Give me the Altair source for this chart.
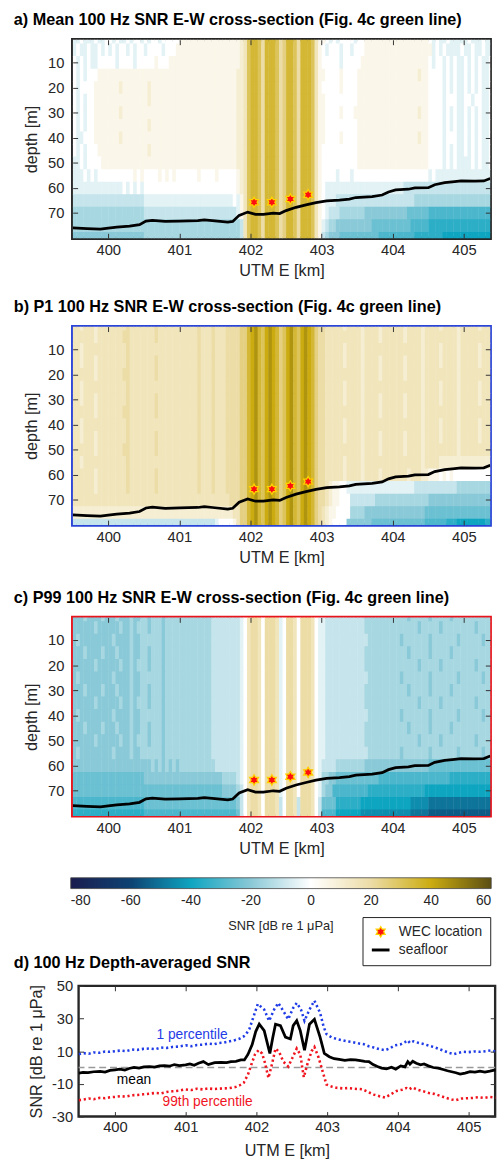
import altair as alt
import pandas as pd

FONT = "Liberation Sans"

# ---------------- heat-map grids ----------------
X_START = 399.5
X_STEP = 0.05
DEPTH_CENTERS = [0, 5, 10, 15, 20, 25, 30, 35, 40, 45, 50, 55, 60, 65, 70, 75, 80]
ROW_HALF = 2.5
LEVEL_CODES = "kjihgfedcba0123456789"
LEVEL_VALUES = [-55, -50, -45, -40, -35, -30, -25, -20, -15, -10, -5,
                0, 5, 10, 15, 20, 25, 30, 35, 40, 45]

# column groups: 399.5-400 | 400-401 | 401-402 | 402-403 | 403-404 | 404-405 | 405-405.4
MEAN_GRID = [
    "aa0aaa0aa0 0a0aa0a00a0a00a00000 11111111111111111236 77647776457764777631 10a0a0000a0011111111 11111111110a0aa0aaaa a0aaa0aa",
    "a0aa0aa0a0 a0a00a0a00a0000a0001 11111111111111111236 77647776457764777631 0a000a00a00011111111 11111111111a0a0aaaa0 aa0aa0aa",
    "0a0a0aa000 00a0000a000001000111 11111111111111111236 77647776457764777631 00000a00000111111111 11111111110a00a0a0aa 0a0a0aa0",
    "0a0a000111 11111111111111111111 11111111111111112236 77647776457764777631 10000100001111111111 11111112110000a0a0aa 0a0a0aa0",
    "0a00001111 11121111111211111111 11111111111111112236 77647776457764777631 00000100001111111111 11111111110000a0a0aa 0a0a0aa0",
    "0a0a001111 11111111111211111111 11111111111111112236 77647776457764777631 10000000001111111111 11111111110000a000aa 00a00aa0",
    "0a0a001111 11121111111111111111 11111111111111112236 77647776457764777631 10000100011111111111 11111112110000a0a0aa 0a0a0aa0",
    "0a0a001111 11111111111211111111 11111111111111112236 77647776457764777631 10000000001111111111 11111111110000a0a0aa 0a0a0aa0",
    "0aa0001111 11121111111111111111 11111111111111112236 77647776457764777631 10000100001111111111 11111112110000a000aa 0a0a0aa0",
    "0a0a000111 11111111111211111111 11111111111111112236 77647776457764777631 00000000001111111111 11111111110000a0a0aa 0a0a0aa0",
    "aa0a000011 11111111111111111111 11111111111111112236 77647776457764777631 00000000001111111111 11111111110000a0a0aa aa0a0aa0",
    "aaa0a0a000 00000001010000101010 00000100001000001236 77647776457764777631 0000a000a00000000000 0000000000a0aaaaaaaa aaaaaaaa",
    "aaaaaaaaaa aaaa0a0a0a0000000000 00000000000000001236 77647776457764777631 0aaaaaaaaaaaaaaaaaaa aaabbbbbbbbbbbbbbbbb bbbbbbbb",
    "bbbbbbbbbb bbbbbbbbbbaaaaaaaaaa aaaaaaaaaaaaaaa0a136 77647776457764777631 0aaabbbbbbbbbbbbbbbb bbbbbbcccccccccccccc cccccccc",
    "cccccccccc ccccccccccbbbbbbbbbb bbbbbbbbbbbbbbbba136 77647776457764777631 0abbbcccccccdddddddd ddddeeeeeeffffffffff ffffffff",
    "cccccccccc cccccccccccccccccccc cccccccccccccccccb36 77647776457764777631 abccddddddddddeeeeee eeeeefffffgggggggggg gggggggg",
    "dddddddddd ddddddddddcccccccccc cccccccccccccccccb36 77647776457764777631 bcdddeeeeeeeeeeeffff ffffffgggggggghhhhhh hhhhhhhh",
]

P1_GRID = [
    "3323332333 33333433333334333333 33333433343334444557 89768987568976898754 43333323333233332333 33323333233332333323 33332333",
    "3333332333 33334433333334333333 33333433343334444557 89768987568976898754 43333333333233332333 33323333233333333323 33333333",
    "3323333333 33333433333333333333 33333433343334444557 89768987568976898754 43333323333233333333 33333333233332333323 33332333",
    "3323332333 33333433333334333333 33333433343334444557 89768987568976898754 43333323333233332333 33323333233332333323 33332333",
    "3333332333 33334433333334333333 33333433343334444557 89768987568976898754 43333333333233332333 33323333233333333323 33333333",
    "3323333333 33333433333333333333 33333433343334444557 89768987568976898754 43333323333233333333 33333333233332333323 33332333",
    "3323332333 33333433333334333333 33333433343334444557 89768987568976898754 43333323333233332333 33323333233332333323 33332333",
    "3333332333 33334433333334333333 33333433343334444557 89768987568976898754 43333333333233332333 33323333233333333323 33333333",
    "3323333333 33333433333333333333 33333433343334444557 89768987568976898754 43333323333233333333 33333333233332333323 33332333",
    "3323332333 33333433333334333333 33333433343334444557 89768987568976898754 43333323333233332333 33323333233332333323 33332333",
    "3333332333 33334433333334333333 33333433343334444557 89768987568976898754 43333333333233332333 33323333233333333323 33333333",
    "3323333333 33333433333333333333 33333433343334444557 89768987568976898754 43333323333233333333 33333333233332222222 22222222",
    "3333332333 33333433333334333333 33333433343334444557 89768987568976898754 43333323333233332333 33332333221110101000 00000000",
    "3333332333 33333433333334333333 33333433343334444557 89768987568976898754 4321100aaaaaaaaaaaaa aaaaaabbbbbbbbbbbbcc cccccccc",
    "3333333333 33333333333333333333 33333333333333444557 89768987568976898754 43211000bbbbbbbccccc ccccccccccdddddddddd dddddddd",
    "2222222222 22222222222222222222 22222222222222233557 89768987568976898754 32110000ccccdddddddd dddddddddeeeeeeeeeee eeeeeeee",
    "bbbbbbbbbb bbbbbbbbbbbbbbbbbbbb bbbbbbbbbba000013557 89768987568976898754 3210000dddddddeeeeee eeeeeeeeeffffffggghh hhhhhhgg",
]

P99_GRID = [
    "dddcddddcd ddcdddcddccdcccdcccc cccccccccbbbbbbbba03 44304443a0443044430a abbbbbbbbbbbcccccccc ccccdcccccdcccccdccc cccccccc",
    "ddddddcddd dddcddcdcccdcccdcccc cccccccccbbbbbbbba03 44304443a0443044430a abbbbbbbbbbbcccccccc cccccccdcccccdcccccc cccdcccc",
    "dcdddddddd dcddddcddccccccdcccc cccccccccbbbbbbbba03 44304443a0443044430a abbbbbbbbbbbbccccccc ccdcccccccdcccccccdc cccccdcc",
    "dddcddddcd ddcdddcddccdcccdcccc cccccccccbbbbbbbba03 44304443a0443044430a abbbbbbbbbbbcccccccc ccccdcccccdcccccdccc cccccccc",
    "ddddddcddd dddcddcdcccdcccdcccc cccccccccbbbbbbbba03 44304443a0443044430a abbbbbbbbbbbcccccccc cccccccdcccccdcccccc cccdcccc",
    "dcdddddddd dcddddcddccccccdcccc cccccccccbbbbbbbba03 44304443a0443044430a abbbbbbbbbbbbccccccc ccdcccccccdcccccccdc cccccdcc",
    "dddcddddcd ddcdddcddccdcccdcccc cccccccccbbbbbbbba03 44304443a0443044430a abbbbbbbbbbbcccccccc ccccdcccccdcccccdccc cccccccc",
    "ddddddcddd dddcddcdcccdcccdcccc cccccccccbbbbbbbba03 44304443a0443044430a abbbbbbbbbbbcccccccc cccccccdcccccdcccccc cccdcccc",
    "dcdddddddd dcddddcddccccccdcccc cccccccccbbbbbbbba03 44304443a0443044430a abbbbbbbbbbbbccccccc ccdcccccccdcccccccdc cccccdcc",
    "dddcddddcd ddcdddcddccdcccdcccc cccccccccbbbbbbbba03 44304443a0443044430a abbbbbbbbbbbcccccccc ccccdcccccdcccccdccc cccccccc",
    "ddddddcddd dddcddcdcccdcccdcccc cccccccccbbbbbbbba03 44304443a0443044430a abbbbbbbbbbbcccccccc cccccccdcccccdcccccc cccdcccc",
    "dcdddddddd dcddddcddccccccdcccc cccccccccbbbbbbbba03 44304443a0443044430a abbbbbbbbbbbbccccccc ccdcccccccdcccccccdc cccccdcc",
    "dddddddddd ddddddddddddcdcdcdcd ccccccccccbbbbbbba03 44304443a0443044430a bbbbccccccccdddddddd ddddddddddeeeeeeeeee eeeeeeee",
    "eeeeeeeeee eeeeeeeeeedddddddddd ddddddddddddccccba03 44304443a0443044430a ccddeeeeeeeeeeeeffff ffffffffffffffffgggg gggggggg",
    "eeeeeeeeee eeeeeeeeeeeeeeeeeeee eeeeeeeeeeeeddddcb03 44304443a0443044430a cddffffffffffggggggg ggggggggghhhhhhhhhhh hhhhhhhh",
    "ffffffffff ffffffffffeeeeeeeeee eeeeeeeeeeeeeeeedb03 44304443b0443b44430b eeeeggggggghhhhhhhhh hhhhhiiiiijjjjjjjjjj jjjjjjjj",
    "gggggggggg ggggggggggffffffffff ffffffffffffffffeb03 44304443b0443b44430b ffffhhhhhhhiiiiiiiii iiiiijjjjjkkkkkkkkkk kkkkkkkk",
]

# ---------------- seafloor and WEC positions ----------------
SEAFLOOR_X = [399.50, 399.70, 399.89, 400.00, 400.12, 400.30, 400.44, 400.53, 400.62, 400.80,
              401.00, 401.26, 401.35, 401.50, 401.68, 401.75, 401.84, 401.96, 402.07, 402.18,
              402.32, 402.41, 402.50, 402.64, 402.78, 402.92, 403.07, 403.25, 403.39, 403.48,
              403.71, 403.85, 403.94, 404.04, 404.22, 404.31, 404.50, 404.59, 404.73, 404.87,
              404.96, 405.15, 405.28, 405.37]
SEAFLOOR_DEPTH = [75.9, 76.2, 76.4, 76.0, 75.6, 75.2, 74.6, 73.2, 72.9, 73.3,
                  73.2, 73.0, 72.7, 73.1, 73.6, 73.3, 70.9, 69.6, 70.5, 70.5,
                  70.0, 70.2, 69.0, 67.7, 66.7, 65.8, 65.1, 64.8, 64.4, 63.8,
                  63.4, 62.8, 61.6, 60.8, 60.5, 60.0, 59.9, 58.7, 57.9, 57.5,
                  57.2, 57.3, 57.2, 56.2]
WEC_X = [402.05, 402.30, 402.56, 402.81]
WEC_DEPTH = [65.7, 65.7, 64.4, 62.7]

# ---------------- depth-averaged SNR (panel d) ----------------
MEAN_LINE = [
    (399.49, -3.4), (399.55, -3.0), (399.62, -3.2), (399.70, -2.6), (399.79, -2.4), (399.86, -2.8),
    (399.93, -1.8), (400.00, -1.4), (400.07, -1.0), (400.14, -1.6), (400.20, -0.6), (400.27, 0.0),
    (400.34, -0.4), (400.41, 0.4), (400.49, 0.6), (400.56, 0.2), (400.63, 1.0), (400.70, 1.2),
    (400.77, 0.8), (400.84, 1.8), (400.91, 1.2), (401.00, 1.6), (401.06, 2.2), (401.12, 1.4),
    (401.18, 2.6), (401.25, 3.6), (401.32, 1.8), (401.41, 3.0), (401.50, 3.2), (401.58, 3.0),
    (401.64, 3.6), (401.71, 3.8), (401.78, 4.6), (401.83, 4.6), (401.88, 8.0), (401.94, 14.0),
    (401.99, 22.0), (402.04, 26.5), (402.11, 22.6), (402.19, 8.6), (402.23, 18.0), (402.27, 26.5),
    (402.34, 25.6), (402.41, 18.6), (402.48, 17.5), (402.52, 25.6), (402.57, 28.6), (402.62, 22.6),
    (402.68, 10.6), (402.75, 26.5), (402.82, 29.5), (402.90, 18.6), (402.96, 8.6), (403.03, 6.6),
    (403.10, 5.4), (403.17, 5.0), (403.25, 4.4), (403.33, 4.8), (403.40, 4.6), (403.47, 4.2),
    (403.53, 3.8), (403.59, 3.6), (403.65, 1.8), (403.71, 0.6), (403.77, -0.4), (403.84, -0.8),
    (403.91, 0.2), (403.97, -1.0), (404.04, 1.0), (404.10, 0.4), (404.14, 3.6), (404.17, 2.0),
    (404.21, 3.8), (404.26, 2.6), (404.32, 1.6), (404.37, 2.2), (404.43, 1.0), (404.50, 0.0),
    (404.57, -0.4), (404.64, -1.2), (404.70, -2.0), (404.76, -2.6), (404.82, -3.2), (404.88, -4.0),
    (404.95, -3.4), (405.02, -2.6), (405.09, -2.8), (405.16, -2.2), (405.23, -2.8), (405.30, -2.2),
    (405.38, -1.4),
]
P1_LINE = [
    (399.49, 8.2), (399.56, 8.8), (399.63, 8.4), (399.70, 9.2), (399.78, 9.0), (399.86, 9.8),
    (399.93, 9.6), (400.00, 10.0), (400.08, 10.4), (400.16, 10.0), (400.24, 11.0), (400.32, 10.8),
    (400.40, 11.4), (400.49, 11.6), (400.57, 11.2), (400.65, 12.2), (400.73, 12.0), (400.81, 12.6),
    (400.90, 12.8), (401.00, 13.6), (401.08, 13.0), (401.16, 13.8), (401.24, 14.0), (401.32, 14.6),
    (401.40, 14.2), (401.46, 15.0), (401.54, 15.2), (401.62, 16.0), (401.70, 16.8), (401.76, 17.6),
    (401.82, 19.0), (401.87, 21.5), (401.90, 23.5), (401.97, 32.5), (402.02, 38.9), (402.11, 35.5),
    (402.18, 28.6), (402.25, 35.5), (402.31, 39.5), (402.38, 34.6), (402.45, 29.5), (402.52, 36.5),
    (402.57, 39.5), (402.63, 35.5), (402.68, 28.6), (402.75, 35.5), (402.82, 40.9), (402.90, 33.5),
    (402.95, 25.0), (402.99, 20.5), (403.06, 18.5), (403.13, 17.5), (403.20, 16.8), (403.28, 16.0),
    (403.36, 15.6), (403.44, 14.8), (403.52, 14.2), (403.59, 13.0), (403.66, 12.2), (403.74, 11.2),
    (403.82, 10.6), (403.89, 11.8), (403.96, 13.6), (404.04, 14.2), (404.10, 15.6), (404.14, 16.6),
    (404.17, 15.0), (404.22, 16.0), (404.30, 15.0), (404.36, 14.4), (404.42, 13.6), (404.50, 12.6),
    (404.58, 11.4), (404.65, 10.2), (404.72, 9.0), (404.79, 8.2), (404.86, 9.0), (404.93, 9.6),
    (405.00, 9.4), (405.08, 9.8), (405.16, 9.6), (405.24, 10.0), (405.31, 10.4), (405.38, 9.8),
]
P99_LINE = [
    (399.49, -20.0), (399.56, -19.6), (399.63, -19.0), (399.70, -19.4), (399.78, -18.6), (399.86, -18.8),
    (399.93, -18.2), (400.00, -18.0), (400.08, -17.6), (400.16, -17.8), (400.24, -17.0), (400.32, -16.8),
    (400.40, -16.4), (400.49, -16.0), (400.57, -15.6), (400.65, -15.8), (400.73, -15.0), (400.81, -14.6),
    (400.90, -14.2), (401.00, -13.4), (401.08, -13.8), (401.16, -13.0), (401.24, -13.4), (401.32, -12.8),
    (401.40, -13.2), (401.46, -13.0), (401.54, -12.8), (401.62, -12.6), (401.70, -12.0), (401.76, -11.0),
    (401.82, -9.4), (401.88, -4.4), (401.93, 2.0), (401.98, 8.0), (402.03, 10.6), (402.08, 8.6),
    (402.12, 3.0), (402.17, -6.4), (402.22, 2.0), (402.27, 11.6), (402.32, 9.6), (402.38, 3.6),
    (402.45, 0.6), (402.51, 6.0), (402.57, 11.6), (402.62, 8.0), (402.67, -6.0), (402.72, 2.0),
    (402.78, 10.0), (402.82, 12.6), (402.88, 6.0), (402.94, -3.0), (402.99, -10.4), (403.06, -11.6),
    (403.13, -12.4), (403.22, -12.8), (403.30, -12.6), (403.38, -13.0), (403.46, -13.2), (403.50, -13.4),
    (403.58, -15.0), (403.66, -16.6), (403.74, -17.6), (403.82, -18.4), (403.90, -16.4), (403.98, -14.4),
    (404.06, -13.6), (404.12, -12.6), (404.16, -13.4), (404.20, -12.2), (404.28, -13.6), (404.36, -14.6),
    (404.44, -15.6), (404.52, -16.2), (404.60, -17.4), (404.68, -18.6), (404.76, -19.6), (404.82, -20.0),
    (404.90, -19.0), (404.98, -18.8), (405.06, -18.6), (405.14, -18.2), (405.22, -18.6), (405.30, -18.0),
    (405.38, -18.4),
]
LINE_LABELS = ["1 percentile", "mean", "99th percentile"]
LINE_LABEL_X = [401.09, 400.27, 401.31]
LINE_LABEL_Y = [19.6, -7.8, -21.4]

# ---------------- axes / ticks ----------------
X_TICKS = [400, 401, 402, 403, 404, 405]
DEPTH_TICKS = [10, 20, 30, 40, 50, 60, 70]
SNR_TICKS = [-30, -10, 10, 30, 50]
CBAR_TICKS = [-80, -60, -40, -20, 0, 20, 40, 60]
CBAR_STOPS = [-80, -60, -40, -20, 0, 20, 40, 60]
SERIES = ["WEC location", "seafloor"]

# ---------------- styles ----------------
CBAR_COLORS = ["#1b1c4e", "#0d4373", "#0ea5c1", "#8ac9d7", "#ffffff", "#ecdca6", "#cbab0f", "#5b4e12"]
STAR_PATH = ("M0,-1L0.289,-0.5L0.866,-0.5L0.577,0L0.866,0.5L0.289,0.5L0,1L-0.289,0.5"
             "L-0.866,0.5L-0.577,0L-0.866,-0.5L-0.289,-0.5Z")
BLUE = "#1f3ce6"
RED = "#f0141e"
TXT = "#262626"
TICK_LEN = 5
PANEL_W, PANEL_H = 425, 202
D_W, D_H = 424, 133
PLAIN_LABEL = "'' + datum.value"

# ---------------- data frames ----------------
def grid_frame(rows):
    recs = []
    for depth, row in zip(DEPTH_CENTERS, rows):
        cells = row.replace(" ", "")
        assert len(cells) == 118, (len(cells), row)
        for k, ch in enumerate(cells):
            x0 = X_START + k * X_STEP
            recs.append({
                "x": x0,
                "x2": x0 + X_STEP + 0.006,
                "d": depth - ROW_HALF,
                "d2": depth + ROW_HALF + 0.3,
                "snr": LEVEL_VALUES[LEVEL_CODES.index(ch)],
            })
    return pd.DataFrame(recs)


sea_df = pd.DataFrame({"x": SEAFLOOR_X, "depth": SEAFLOOR_DEPTH, "series": "seafloor"})
wec_df = pd.DataFrame({"x": WEC_X, "depth": WEC_DEPTH, "series": "WEC location"})

X_SCALE = alt.Scale(domain=[399.5, 405.37], nice=False, zero=False)
Y_SCALE = alt.Scale(domain=[1, 80], reverse=True, nice=False, zero=False)
C_SCALE = alt.Scale(domain=CBAR_STOPS, range=CBAR_COLORS, interpolate="rgb", clamp=True)

GRAD_LEGEND = alt.Legend(
    orient="none", legendX=-2, legendY=853, direction="horizontal", padding=0,
    gradientLength=428, gradientThickness=11, gradientStrokeColor="#444444", gradientStrokeWidth=0.8,
    values=CBAR_TICKS, labelFontSize=14, labelAlign="center", labelOffset=6, labelOverlap=False,
    labelFont=FONT, labelColor=TXT, labelExpr=PLAIN_LABEL,
    title="SNR [dB re 1 \u03bcPa]", titleOrient="bottom", titleAnchor="middle", titleFontSize=13,
    titleFontWeight="normal", titleFont=FONT, titleColor=TXT, titlePadding=12,
)
SYM_LEGEND = alt.Legend(
    orient="none", legendX=295, legendY=893, title=None, strokeColor="#222222", fillColor="white",
    padding=8, labelFontSize=14, labelFont=FONT, labelColor=TXT, labelOffset=8, rowPadding=0,
)


def tick_axis(orient, values):
    return alt.Axis(orient=orient, offset=-TICK_LEN, values=values, labels=False, domain=False,
                    grid=False, ticks=True, tickSize=TICK_LEN, tickColor="#333333", tickWidth=1,
                    title=None, zindex=1, minExtent=0, maxExtent=0)


def label_axis(orient, values, title, label_pad, title_pad):
    return alt.Axis(orient=orient, values=values, labels=True, ticks=False, domain=False, grid=False,
                    labelPadding=label_pad, labelFontSize=15, labelColor=TXT, labelFont=FONT,
                    labelFlush=False, labelOverlap=False, labelExpr=PLAIN_LABEL,
                    title=title, titleFontSize=16.5, titleFontWeight="normal", titleFont=FONT,
                    titleColor=TXT, titlePadding=title_pad, minExtent=0)


def panel_title(text, dx, dy):
    return alt.TitleParams(text=text, anchor="start", frame="group", dx=dx, dy=dy, offset=12,
                           fontSize=16.5, fontWeight="bold", font=FONT, color="black",
                           baseline="alphabetic")


def heat_panel(grid, title, frame_color):
    heat = alt.Chart(grid_frame(grid)).mark_rect(clip=True, strokeWidth=0).encode(
        x=alt.X("x:Q", scale=X_SCALE, axis=label_axis("bottom", X_TICKS, "UTM E [km]", 5, 5)),
        x2="x2:Q",
        y=alt.Y("d:Q", scale=Y_SCALE, axis=label_axis("left", DEPTH_TICKS, "depth [m]", 9, 8)),
        y2="d2:Q",
        color=alt.Color("snr:Q", scale=C_SCALE, legend=GRAD_LEGEND),
    )
    sea = alt.Chart(sea_df).mark_line(strokeWidth=2.8, clip=True).encode(
        x=alt.X("x:Q", scale=X_SCALE, axis=tick_axis("bottom", X_TICKS)),
        y=alt.Y("depth:Q", scale=Y_SCALE, axis=tick_axis("left", DEPTH_TICKS)),
        stroke=alt.Stroke("series:N", scale=alt.Scale(domain=SERIES, range=["#ffd200", "#000000"]),
                          legend=SYM_LEGEND),
    )
    stars = alt.Chart(wec_df).mark_point(filled=True, opacity=1).encode(
        x=alt.X("x:Q", scale=X_SCALE, axis=tick_axis("top", X_TICKS)),
        y=alt.Y("depth:Q", scale=Y_SCALE, axis=tick_axis("right", DEPTH_TICKS)),
        fill=alt.Fill("series:N", scale=alt.Scale(domain=SERIES, range=["#ff1010", "#000000"]),
                      legend=SYM_LEGEND),
        stroke=alt.Stroke("series:N", scale=alt.Scale(domain=SERIES, range=["#ffd200", "#000000"]),
                          legend=SYM_LEGEND),
        shape=alt.Shape("series:N", scale=alt.Scale(domain=SERIES, range=[STAR_PATH, "stroke"]),
                        legend=SYM_LEGEND),
        size=alt.Size("series:N", scale=alt.Scale(domain=SERIES, range=[110, 324]), legend=SYM_LEGEND),
        strokeWidth=alt.StrokeWidth("series:N", scale=alt.Scale(domain=SERIES, range=[1.3, 3]),
                                    legend=SYM_LEGEND),
    )
    return alt.layer(heat, sea, stars).resolve_axis(x="independent", y="independent").properties(
        width=PANEL_W, height=PANEL_H, title=panel_title(title, -60, 14),
        view=alt.ViewBackground(stroke=frame_color, strokeWidth=3.4),
    )


pa = heat_panel(MEAN_GRID, "a) Mean 100 Hz SNR E-W cross-section (Fig. 4c green line)", "#262626")
pb = heat_panel(P1_GRID, "b) P1 100 Hz SNR E-W cross-section (Fig. 4c green line)", "#2b44d8")
pc = heat_panel(P99_GRID, "c) P99 100 Hz SNR E-W cross-section (Fig. 4c green line)", "#e8141c")

# ---------------- panel d ----------------
D_X = alt.Scale(domain=[399.486, 405.375], nice=False, zero=False)
D_Y = alt.Scale(domain=[-30, 50], nice=False, zero=False)


def line_df(pts):
    return pd.DataFrame({"x": [p[0] for p in pts], "snr": [p[1] for p in pts]})


zero_rule = alt.Chart(pd.DataFrame({"z": [0]})).mark_rule(
    color="#9a9a9a", strokeDash=[7, 4], strokeWidth=1.3
).encode(y=alt.Y("z:Q", scale=D_Y, axis=None))

p1_line = alt.Chart(line_df(P1_LINE)).mark_line(color=BLUE, strokeWidth=2.6, strokeDash=[2.2, 2.8]).encode(
    x=alt.X("x:Q", scale=D_X, axis=label_axis("bottom", X_TICKS, "UTM E [km]", 3, 9)),
    y=alt.Y("snr:Q", scale=D_Y, axis=label_axis("left", SNR_TICKS, "SNR [dB re 1 \u03bcPa]", 6, 7)),
)
p99_line = alt.Chart(line_df(P99_LINE)).mark_line(color=RED, strokeWidth=2.6, strokeDash=[2.2, 2.8]).encode(
    x=alt.X("x:Q", scale=D_X, axis=tick_axis("bottom", X_TICKS)),
    y=alt.Y("snr:Q", scale=D_Y, axis=tick_axis("left", SNR_TICKS)),
)
mean_line = alt.Chart(line_df(MEAN_LINE)).mark_line(color="black", strokeWidth=2.8).encode(
    x=alt.X("x:Q", scale=D_X, axis=tick_axis("top", X_TICKS)),
    y=alt.Y("snr:Q", scale=D_Y, axis=tick_axis("right", SNR_TICKS)),
)

label_colors = [BLUE, "black", RED]
label_layers = []
for txt, lx, ly, col in zip(LINE_LABELS, LINE_LABEL_X, LINE_LABEL_Y, label_colors):
    label_layers.append(
        alt.Chart(pd.DataFrame({"x": [lx], "y": [ly], "t": [txt]})).mark_text(
            color=col, fontSize=14, font=FONT
        ).encode(
            x=alt.X("x:Q", scale=D_X, axis=None),
            y=alt.Y("y:Q", scale=D_Y, axis=None),
            text="t:N",
        )
    )

panel_d = alt.layer(zero_rule, p1_line, p99_line, mean_line, *label_layers).resolve_axis(
    x="independent", y="independent"
).properties(
    width=D_W, height=D_H, title=panel_title("d) 100 Hz Depth-averaged SNR", -66, 17),
    view=alt.ViewBackground(stroke="#262626", strokeWidth=2.4),
)


def blank(w, h):
    return alt.Chart(pd.DataFrame({"s": [0]})).mark_point(opacity=0).encode(
        x=alt.X("s:Q", axis=None), y=alt.Y("s:Q", axis=None)
    ).properties(width=w, height=h)


GAP = 20
drow = alt.hconcat(blank(6, D_H), panel_d, spacing=0, bounds="flush")

chart = alt.vconcat(
    pa, blank(1, 49.5), pb, blank(1, 53.5), pc, blank(1, 133), drow,
    spacing=GAP, bounds="flush",
).properties(
    padding={"left": 12, "top": 0, "right": 0, "bottom": 0}
).configure(font=FONT).configure_view(stroke="transparent")

chart.save("out.html", embed_options={"renderer": "svg", "actions": False})
